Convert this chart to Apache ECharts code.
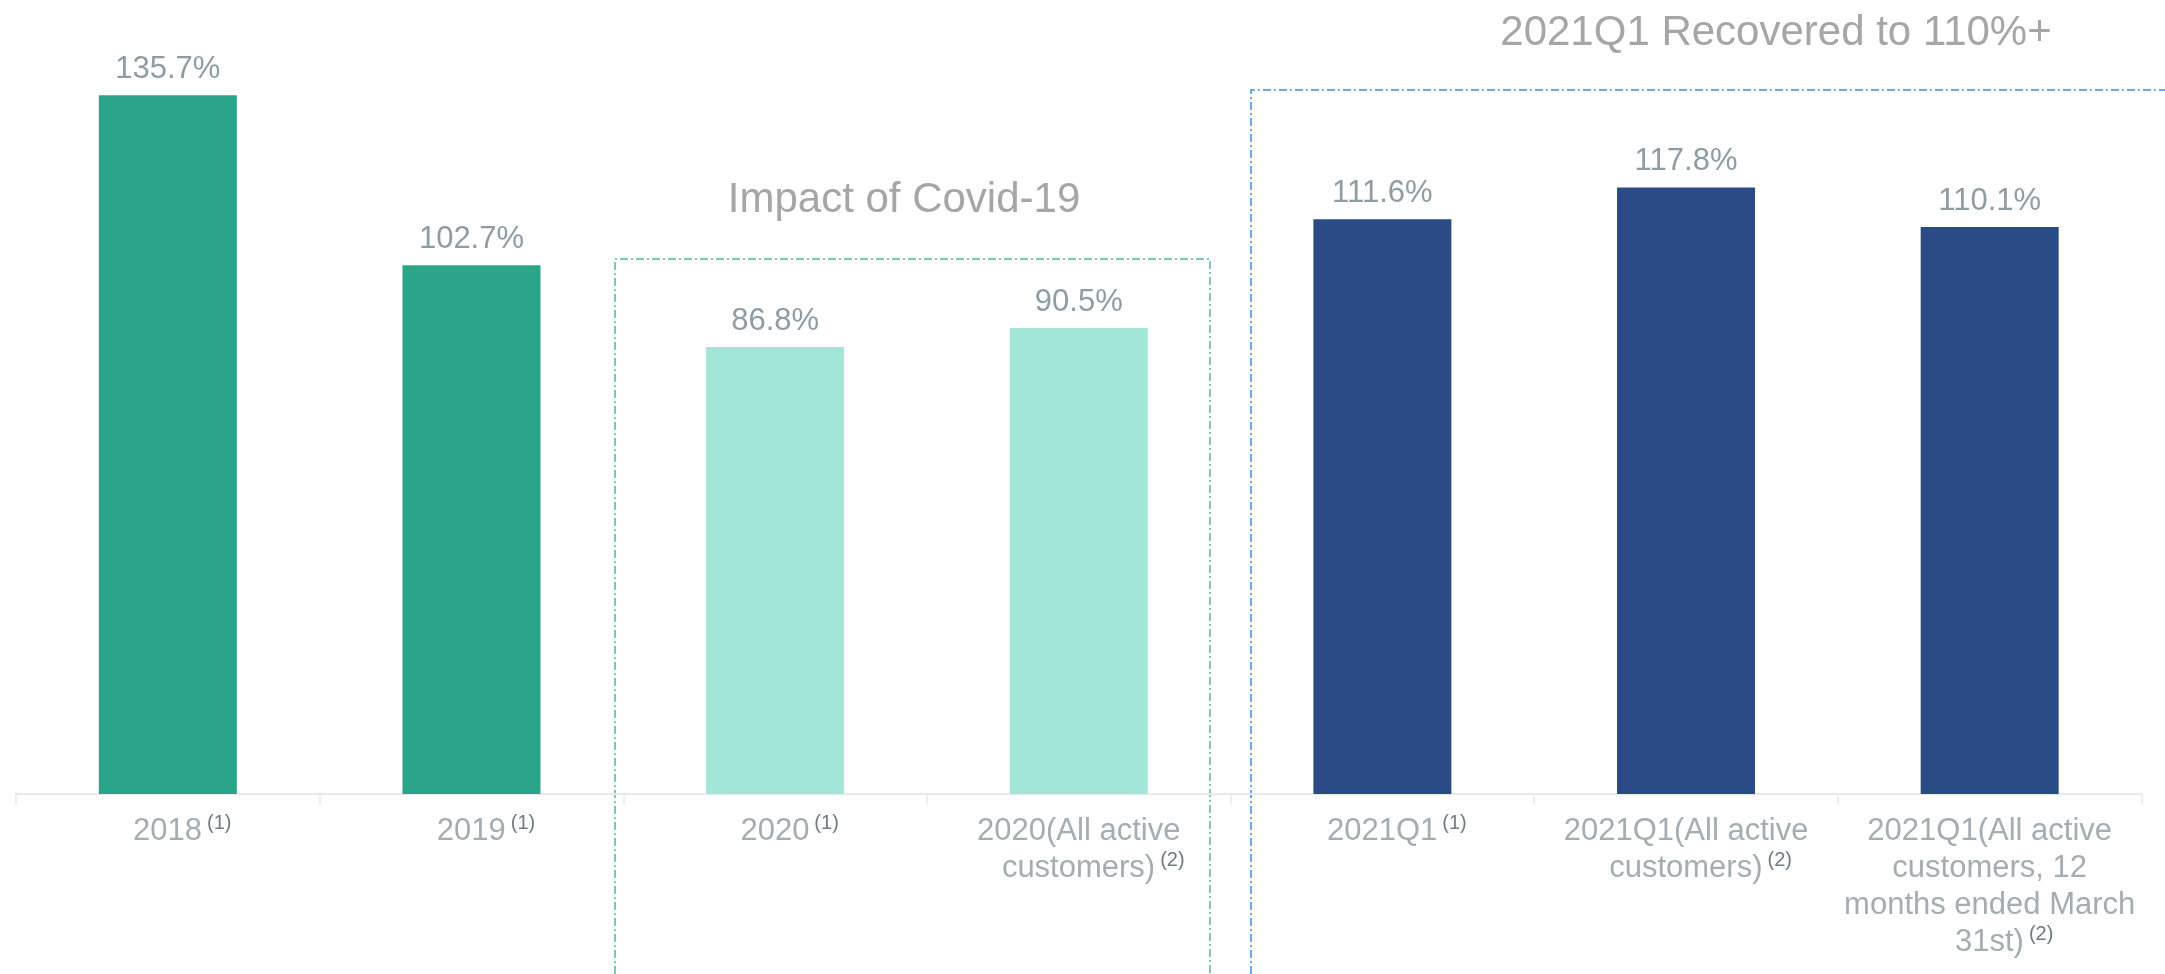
<!DOCTYPE html>
<html>
<head>
<meta charset="utf-8">
<script src="https://cdn.jsdelivr.net/npm/echarts@6/dist/echarts.min.js"></script>
<style>
html,body{margin:0;padding:0;background:#fff;}
#chart{width:2165px;height:974px;}
</style>
</head>
<body>
<div id="chart"></div>
<script>
// ---- data ----
const categories = [
  '2018',
  '2019',
  '2020',
  '2020(All active\ncustomers)',
  '2021Q1',
  '2021Q1(All active\ncustomers)',
  '2021Q1(All active\ncustomers, 12\nmonths ended March\n31st)'
];
const notes = ['(1)', '(1)', '(1)', '(2)', '(1)', '(2)', '(2)'];
const values = [135.7, 102.7, 86.8, 90.5, 111.6, 117.8, 110.1];
const groups = ['base', 'base', 'covid', 'covid', 'recovery', 'recovery', 'recovery'];
const groupTitles = ['Impact of Covid-19', '2021Q1 Recovered to 110%+'];

// ---- styles ----
const FONT = '"Liberation Sans", Arial, Helvetica, sans-serif';
const groupColors = { base: '#2BA58A', covid: '#A2E6D8', recovery: '#2A4B85' };

const chart = echarts.init(document.getElementById('chart'), null, { renderer: 'canvas' });

const option = {
  animation: false,
  backgroundColor: '#ffffff',
  grid: { left: 16, right: 23.5, top: 21.65, bottom: 180, containLabel: false },
  xAxis: {
    type: 'category',
    data: categories,
    axisLine: { show: true, lineStyle: { color: '#E6EAEB', width: 2 } },
    axisTick: { show: true, length: 10, lineStyle: { color: '#E6EAEB', width: 1.5 } },
    axisLabel: {
      interval: 0,
      margin: 19,
      hideOverlap: false,
      formatter: function (val, idx) {
        const lines = val.split('\n');
        return lines.map(function (ln, i) {
          if (i === lines.length - 1) {
            return '{sp| }{t|' + ln + '}{sup|' + notes[idx] + '}';
          }
          return '{t|' + ln + '}';
        }).join('\n');
      },
      rich: {
        t: { fontFamily: FONT, fontSize: 31, lineHeight: 37, color: '#A3ADB2', align: 'center' },
        sp: { width: 29, fontSize: 20, lineHeight: 29, align: 'center' },
        sup: { fontFamily: FONT, fontSize: 20, lineHeight: 29, color: '#6F7C83', verticalAlign: 'top', padding: [0, 0, 0, 5], align: 'center' }
      }
    },
    splitLine: { show: false }
  },
  yAxis: {
    type: 'value',
    min: 0,
    max: 150,
    show: false,
    splitLine: { show: false }
  },
  series: [{
    type: 'bar',
    barWidth: 138,
    data: values.map(function (v, i) {
      return { value: v, itemStyle: { color: groupColors[groups[i]] } };
    }),
    label: {
      show: true,
      position: 'top',
      distance: 10,
      fontFamily: FONT,
      fontSize: 31,
      color: '#8E9CA4',
      formatter: function (p) { return p.value.toFixed(1) + '%'; }
    }
  }],
  graphic: [
    {
      type: 'polyline',
      silent: true,
      shape: { points: [[615, 990], [615, 259], [1210, 259], [1210, 990]] },
      style: { stroke: '#4FB99D', lineWidth: 1.5, fill: null, lineDash: [8, 3, 2, 3] }
    },
    {
      type: 'polyline',
      silent: true,
      shape: { points: [[1251, 990], [1251, 90], [2180, 90]] },
      style: { stroke: '#3D8EE8', lineWidth: 1.5, fill: null, lineDash: [8, 3, 2, 3] }
    },
    {
      type: 'text',
      silent: true,
      style: {
        text: groupTitles[0], x: 904, y: 200.5,
        font: '42px ' + FONT, fill: '#A6A6A6', align: 'center', verticalAlign: 'middle'
      }
    },
    {
      type: 'text',
      silent: true,
      style: {
        text: groupTitles[1], x: 1776, y: 33.5,
        font: '42px ' + FONT, fill: '#A6A6A6', align: 'center', verticalAlign: 'middle'
      }
    }
  ]
};

chart.setOption(option);
</script>
</body>
</html>
